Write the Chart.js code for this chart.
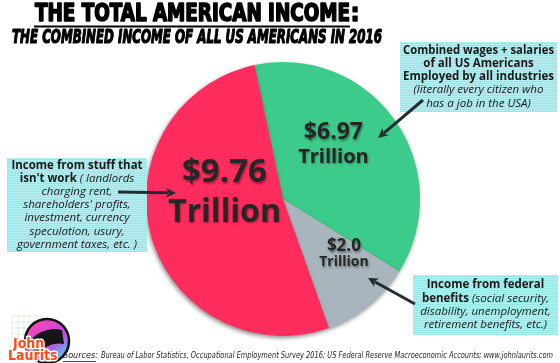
<!DOCTYPE html>
<html>
<head>
<meta charset="utf-8">
<script src="https://cdn.jsdelivr.net/npm/chart.js@4"></script>
<style>
  html, body { margin:0; padding:0; background:#fff; }
  #wrap { width:560px; height:363px; position:relative; }
</style>
</head>
<body>
<div id="wrap"><canvas id="chart-income"></canvas></div>
<script>
// ─── DATA ─────────────────────────────────────────────────────────────────────
const categories = ['Wages + salaries', 'Federal benefits', "Income from stuff that isn't work"];
const incomeTrillions = [6.97, 2.0, 9.76];
const valueLabels = ['$6.97', '$2.0', '$9.76'];
const unitLabel = 'Trillion';

const titleText = 'THE TOTAL AMERICAN INCOME';
const subtitleText = 'THE COMBINED INCOME OF ALL US AMERICANS IN 2016';
const sourcesText = 'Bureau of Labor Statistics, Occupational Employment Survey 2016; US Federal Reserve Macroeconomic Accounts; www.johnlaurits.com';

// note boxes: each line is a list of [text, bold?]
const notes = [
  { slice:0, box:[400,42,157,70], lines:[
      [['Combined wages + salaries',1]], [['of all US Americans',1]], [['Employed by all industries',1]],
      [['(literally every citizen who',0]], [['has a job in the USA)',0]] ],
    arrow:[423,100,378,138] },
  { slice:2, box:[7,158,140,94], lines:[
      [['Income from stuff that',1]], [["isn't work",1],[' ( landlords',0]], [['charging rent,',0]],
      [["shareholders' profits,",0]], [['investment, currency',0]], [['speculation, usury,',0]],
      [['government taxes, etc. )',0]] ],
    arrow:[118,192,176,193] },
  { slice:1, box:[413,275,145,60], lines:[
      [['Income from federal',1]], [['benefits',1],[' (social security,',0]],
      [['disability, unemployment,',0]], [['retirement benefits, etc.)',0]] ],
    arrow:[415,304,368,278] }
];

// ─── STYLE ────────────────────────────────────────────────────────────────────
const sliceColors = ['#3ccb8a', '#a9b5bc', '#ff2c5e'];
// label placement relative to each arc: angle shift (deg), radius fraction, font sizes, line gap
const labelStyle = [
  { shift:-12, frac:0.54, v:23, u:20, gap:12 },
  { shift:-9,  frac:0.60, v:17, u:14, gap:8 },
  { shift:22,  frac:0.43, v:33, u:32, gap:20 }
];
const UI = "'Open Sans', 'DejaVu Sans', sans-serif";
const NARROW = "'Liberation Sans Narrow', 'DejaVu Sans Condensed', sans-serif";

function fitText(ctx, s, x, y, font, color, width, align, heavy) {
  ctx.save();
  ctx.font = font;
  const w = ctx.measureText(s).width;
  ctx.translate(x, y);
  if (width) ctx.scale(width / w, 1);
  ctx.fillStyle = color;
  ctx.textAlign = align || 'center';
  ctx.textBaseline = 'middle';
  if (heavy) { ctx.strokeStyle = color; ctx.lineWidth = heavy; ctx.lineJoin = 'round'; ctx.strokeText(s, 0, 0); }
  ctx.fillText(s, 0, 0);
  ctx.restore();
  return width || w;
}

function drawArrow(ctx, x1, y1, x2, y2) {
  const a = Math.atan2(y2 - y1, x2 - x1), h = 11;
  ctx.save();
  ctx.strokeStyle = '#1f2d33'; ctx.fillStyle = '#1f2d33';
  ctx.lineWidth = 3;
  ctx.beginPath(); ctx.moveTo(x1, y1);
  ctx.lineTo(x2 - Math.cos(a) * h * 0.7, y2 - Math.sin(a) * h * 0.7); ctx.stroke();
  ctx.beginPath(); ctx.moveTo(x2, y2);
  ctx.lineTo(x2 - h * Math.cos(a - 0.45), y2 - h * Math.sin(a - 0.45));
  ctx.lineTo(x2 - h * 0.65 * Math.cos(a), y2 - h * 0.65 * Math.sin(a));
  ctx.lineTo(x2 - h * Math.cos(a + 0.45), y2 - h * Math.sin(a + 0.45));
  ctx.closePath(); ctx.fill();
  ctx.restore();
}

function drawNote(ctx, n) {
  const [x, y, w, h] = n.box;
  ctx.save();
  ctx.fillStyle = '#b3f1f1';
  ctx.fillRect(x, y, w, h);
  ctx.strokeStyle = 'rgba(70,180,190,0.22)'; ctx.lineWidth = 1;
  for (let yy = y + 1.5; yy < y + h; yy += 2) { ctx.beginPath(); ctx.moveTo(x, yy); ctx.lineTo(x + w, yy); ctx.stroke(); }
  ctx.restore();
  const cx = x + w / 2, lh = 13.2;
  const top = y + h / 2 - (n.lines.length - 1) * lh / 2;
  n.lines.forEach((segs, i) => {
    const yy = top + i * lh;
    const fonts = segs.map(s => (s[1] ? 'bold 11.5px ' : 'italic 11.5px ') + UI);
    let total = 0;
    segs.forEach((s, k) => { ctx.font = fonts[k]; total += ctx.measureText(s[0]).width; });
    const sc = Math.min(1, (w - 6) / total);
    let xx = cx - total * sc / 2;
    segs.forEach((s, k) => {
      ctx.save(); ctx.font = fonts[k];
      const sw = ctx.measureText(s[0]).width;
      ctx.translate(xx, yy); ctx.scale(sc, 1);
      ctx.fillStyle = '#1a1a1a'; ctx.textAlign = 'left'; ctx.textBaseline = 'middle';
      ctx.fillText(s[0], 0, 0); ctx.restore();
      xx += sw * sc;
    });
  });
}

function drawLogo(ctx) {
  ctx.save();
  ctx.strokeStyle = 'rgba(120,200,140,0.25)'; ctx.lineWidth = 1;
  for (let i = 0; i <= 5; i++) {
    ctx.beginPath(); ctx.moveTo(12 + i * 6, 316); ctx.lineTo(12 + i * 6, 346); ctx.stroke();
    ctx.beginPath(); ctx.moveTo(12, 316 + i * 6); ctx.lineTo(42, 316 + i * 6); ctx.stroke();
  }
  const g = ctx.createLinearGradient(30, 320, 62, 362);
  g.addColorStop(0, '#ff45b0'); g.addColorStop(0.6, '#c04be0'); g.addColorStop(1, '#40e0f0');
  ctx.beginPath(); ctx.arc(47, 341, 22, 0, Math.PI * 2);
  ctx.fillStyle = g; ctx.fill();
  ctx.lineWidth = 2.5; ctx.strokeStyle = '#111'; ctx.stroke();
  ctx.beginPath();
  ctx.moveTo(30, 340); ctx.quadraticCurveTo(45, 326, 62, 330);
  ctx.lineTo(64, 344); ctx.quadraticCurveTo(48, 341, 36, 356); ctx.closePath();
  ctx.fillStyle = '#151515'; ctx.fill();
  ctx.restore();
  ctx.save();
  ctx.font = 'bold 14px ' + NARROW;
  ctx.textAlign = 'left'; ctx.textBaseline = 'middle';
  ctx.lineWidth = 3; ctx.strokeStyle = '#fff'; ctx.lineJoin = 'round';
  [['John', 13, 344], ['Laurits', 8, 356]].forEach(([s, x, y]) => {
    ctx.strokeText(s, x, y); ctx.fillStyle = '#ff4a1c'; ctx.fillText(s, x, y);
  });
  ctx.restore();
}

const decorPlugin = {
  id: 'decor',
  beforeDatasetsDraw(chart) {
    const ctx = chart.ctx;
    ctx.save();
    ctx.shadowColor = 'rgba(0,0,0,0.45)';
    ctx.shadowBlur = 4; ctx.shadowOffsetX = -1; ctx.shadowOffsetY = 2;
  },
  afterDatasetsDraw(chart) {
    chart.ctx.restore();
    const ctx = chart.ctx;
    const arcs = chart.getDatasetMeta(0).data;
    arcs.forEach((arc, i) => {
      const p = arc.getProps(['x', 'y', 'startAngle', 'endAngle', 'outerRadius'], true);
      const st = labelStyle[i];
      const a = (p.startAngle + p.endAngle) / 2 + st.shift * Math.PI / 180;
      const lx = p.x + Math.cos(a) * p.outerRadius * st.frac;
      const ly = p.y + Math.sin(a) * p.outerRadius * st.frac;
      ctx.save();
      ctx.shadowColor = 'rgba(0,0,0,0.35)'; ctx.shadowBlur = 2; ctx.shadowOffsetX = 1; ctx.shadowOffsetY = 1.5;
      fitText(ctx, valueLabels[i], lx, ly - st.gap, 'bold ' + st.v + 'px ' + UI, '#262626');
      fitText(ctx, unitLabel, lx, ly + st.gap, 'bold ' + st.u + 'px ' + UI, '#262626');
      ctx.restore();
    });
  },
  afterDraw(chart) {
    const ctx = chart.ctx;
    // title + underline
    const tx = 35, tw = 315;
    fitText(ctx, titleText, tx + tw / 2, 15, 'bold 24px ' + NARROW, '#000', tw, 'center', 1.6);
    fitText(ctx, ':', tx + tw + 5, 15, 'bold 24px ' + NARROW, '#000', null, 'center', 1.6);
    ctx.fillStyle = '#000'; ctx.fillRect(tx - 1, 25.5, tw + 1, 2);
    fitText(ctx, subtitleText, 12 + 185, 38.5, 'italic bold 19px ' + NARROW, '#000', 370, 'center', 1.2);
    // notes + arrows
    notes.forEach(n => { drawNote(ctx, n); drawArrow(ctx, ...n.arrow); });
    // sources
    ctx.save();
    const sw = fitText(ctx, 'Sources:', 63, 356, 'italic 9px ' + NARROW, '#222', null, 'left');
    ctx.fillStyle = '#222'; ctx.fillRect(63, 361, sw - 2, 0.8);
    fitText(ctx, sourcesText, 66 + sw, 356, 'italic 9px ' + NARROW, '#222', 487 - sw, 'left');
    ctx.restore();
    drawLogo(ctx);
  }
};

// ─── CHART ────────────────────────────────────────────────────────────────────
new Chart(document.getElementById('chart-income'), {
  type: 'pie',
  data: { labels: categories, datasets: [{
    data: incomeTrillions,
    backgroundColor: sliceColors,
    borderWidth: 0
  }]},
  options: {
    responsive: true, maintainAspectRatio: false, animation: false,
    rotation: -12,
    layout: { padding: { left: 146, right: 140, top: 62, bottom: 27 } },
    plugins: { legend: { display: false }, tooltip: { enabled: false } }
  },
  plugins: [decorPlugin]
});
</script>
</body>
</html>
